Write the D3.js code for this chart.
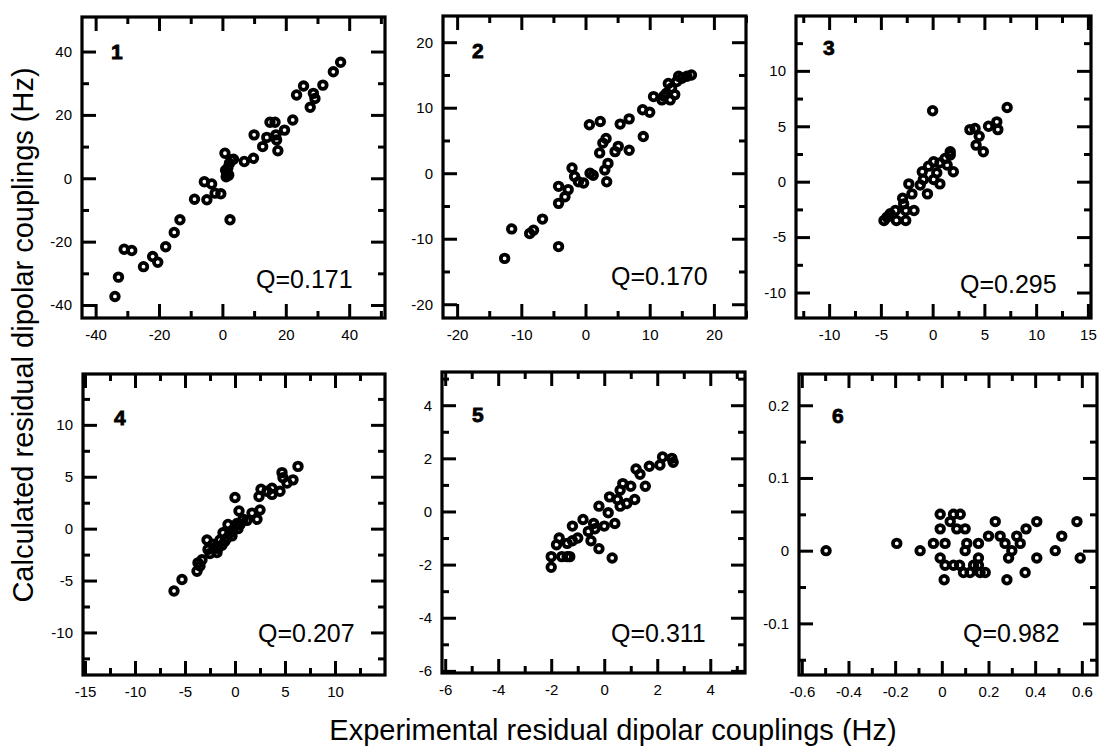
<!DOCTYPE html>
<html>
<head>
<meta charset="utf-8">
<script src="https://cdn.jsdelivr.net/npm/d3@7"></script>
<style>
  body { margin: 0; background: #fff; }
  text { font-family: "Liberation Sans", Arial, sans-serif; fill: #000; }
</style>
</head>
<body>
<div id="chart"></div>
<script>
// experimental (x) vs calculated (y) RDCs, one pair of arrays per panel
var p1x = [-33.9,-32.8,-31.0,-28.6,-24.9,-22.0,-20.4,-17.9,-15.2,-13.4,-8.8,-5.7,-4.9,-3.4,-2.3,-0.5,0.8,2.4,1.4,1.7,2.2,1.2,2.9,3.5,6.9,9.8,10.0,12.7,14.0,15.0,16.6,16.9,17.1,17.5,19.6,22.2,23.4,25.6,27.7,28.7,29.2,31.7,35.0,37.3,1.0,2.0];
var p1y = [-37.3,-31.2,-22.4,-22.8,-27.9,-24.7,-26.5,-21.6,-17.1,-13.1,-6.6,-1.1,-6.8,-1.8,-4.7,-4.9,7.9,-13.1,1.6,3.2,4.7,0.5,5.8,6.0,5.3,6.3,13.7,10.0,12.9,17.7,17.7,13.7,12.1,8.7,15.2,18.4,26.3,29.1,22.4,26.8,25.2,29.4,33.6,36.6,2.5,1.0];

var p2x = [-12.6,-11.5,-8.7,-8.1,-6.7,-4.2,-4.2,-4.2,-3.2,-2.7,-2.1,-1.7,-1.1,-0.3,0.6,0.7,1.2,2.3,2.2,2.7,3.2,3.0,3.5,3.3,4.6,5.1,5.4,6.8,6.8,8.9,9.0,10.0,10.6,11.9,12.6,13.2,13.4,13.9,14.5,15.0,15.8,16.5,12.9,14.2,12.2];
var p2y = [-13.0,-8.5,-9.2,-8.7,-7.0,-11.2,-2.0,-4.6,-3.6,-2.5,0.8,-0.5,-1.3,-1.5,7.4,0,-0.3,7.9,3.1,4.6,5.3,0.5,1.5,-1.3,3.3,4.1,7.5,8.3,3.5,9.7,5.6,9.3,11.7,11.2,12.2,11.2,13.0,12.0,14.8,14.5,14.8,15.0,13.7,14.0,11.8];

var p3x = [0,7.2,3.6,4.1,4.5,4.2,4.9,5.4,6.2,6.3,2.0,1.7,1.2,0.7,0.1,-0.4,0.4,-1.0,-0.5,-1.2,-2.3,-2.0,-2.8,-2.6,-3.6,-4.1,-4.4,-4.7,-3.5,-2.6,-1.8,-0.9,0.1,0.7,1.4,1.7,-2.9];
var p3y = [6.4,6.7,4.7,4.8,4.1,3.3,2.7,5.0,5.4,4.7,0.9,2.4,2.1,1.7,1.8,1.4,0.8,0.9,-1.1,-0.3,-0.2,-1.1,-2.0,-2.6,-2.6,-2.9,-3.2,-3.5,-3.5,-3.5,-2.6,0.2,0.2,-0.2,1.5,2.7,-1.5];

var p4x = [-6.1,-5.3,-3.8,-3.7,-3.3,-2.8,-2.7,-2.2,-1.8,-1.5,-1.2,-1.0,-0.7,-0.5,-0.2,0,0.2,0.4,0.8,1.7,2.2,2.5,2.4,2.6,3.2,3.7,3.7,4.5,4.7,4.8,5.2,5.8,6.3,-1.7,-0.3,0.5,-3.5,-2.5,-2.0,-1.3,-0.8,0.3,1.2];
var p4y = [-6.0,-4.9,-4.1,-3.3,-3.0,-1.1,-2.0,-1.5,-2.3,-1.1,-0.4,-1.2,0.4,-0.4,-0.1,3.0,0.5,1.7,0.9,1.5,0.9,1.8,3.1,3.8,3.6,3.3,3.9,3.6,5.4,4.9,4.4,4.7,6.0,-1.9,-0.7,0.4,-3.6,-2.4,-1.8,-1.6,-0.9,0.0,0.8];

var p5x = [-2.0,-2.0,-1.8,-1.7,-1.6,-1.4,-1.3,-1.4,-1.2,-1.2,-1.0,-0.8,-0.6,-0.5,-0.2,-0.4,-0.2,0,0.3,0.2,0.4,0.5,0.6,0.7,0.85,1.0,1.15,1.2,1.55,1.35,1.7,2.1,2.2,2.55,2.6,0.6,0.15,-0.35];
var p5y = [-2.1,-1.7,-1.25,-1.0,-1.7,-1.7,-1.7,-1.2,-0.55,-1.1,-1.0,-0.3,-0.75,-1.1,-1.4,-0.45,0.2,-0.55,-1.75,0.55,-0.45,0.45,0.8,1.05,0.3,0.95,0.45,1.6,0.95,1.4,1.7,1.75,2.05,2.0,1.85,0.2,-0.05,-0.65];

var p6x = [-0.496,-0.193,-0.093,-0.036,-0.007,-0.007,-0.007,0.01,0.014,0.014,0.036,0.05,0.079,0.064,0.1,0.076,0.093,0.107,0.1,0.121,0.157,0.157,0.157,0.164,0.186,0.2,0.229,0.25,0.271,0.279,0.286,0.3,0.321,0.336,0.357,0.361,0.407,0.407,0.486,0.514,0.579,0.593,0.05,0.136];
var p6y = [0,0.01,0,0.01,0.05,0.03,-0.01,-0.04,-0.02,0.01,0.04,0.05,0.05,0.03,0.03,-0.02,-0.03,0.01,0,-0.03,0.01,-0.01,-0.02,-0.03,-0.03,0.02,0.04,0.02,0.01,-0.04,-0.01,0,0.02,0.01,-0.03,0.03,0.04,-0.01,0,0.02,0.04,-0.01,-0.02,-0.02];

var panelNames = ["1", "2", "3", "4", "5", "6"];
var qLabels = ["Q=0.171", "Q=0.170", "Q=0.295", "Q=0.207", "Q=0.311", "Q=0.982"];

// labelled (major) and unlabelled (minor) tick values
var xMajor = [[-40,-20,0,20,40], [-20,-10,0,10,20], [-10,-5,0,5,10,15], [-15,-10,-5,0,5,10], [-6,-4,-2,0,2,4], [-0.6,-0.4,-0.2,0,0.2,0.4,0.6]];
var xMinor = [[-30,-10,10,30,50], [-15,-5,5,15,25], [-12.5,-7.5,-2.5,2.5,7.5,12.5], [-12.5,-7.5,-2.5,2.5,7.5,12.5], [-5,-3,-1,1,3,5], [-0.5,-0.3,-0.1,0.1,0.3,0.5]];
var yMajor = [[-40,-20,0,20,40], [-20,-10,0,10,20], [-10,-5,0,5,10], [-10,-5,0,5,10], [-6,-4,-2,0,2,4], [-0.1,0,0.1,0.2]];
var yMinor = [[-30,-10,10,30], [-15,-5,5,15], [-7.5,-2.5,2.5,7.5,12.5], [-12.5,-7.5,-2.5,2.5,7.5,12.5], [-5,-3,-1,1,3,5], [-0.15,-0.05,0.05,0.15]];

var xData = [p1x, p2x, p3x, p4x, p5x, p6x];
var yData = [p1y, p2y, p3y, p4y, p5y, p6y];

// panel layout: frame box in pixels and the axis ranges it shows
var layout = [
    {box: [82, 17, 385, 318],  xd: [-44.3, 51.3],   yd: [-44.1, 50.9]},
    {box: [443, 16, 746, 318], xd: [-22.2, 25.0],   yd: [-22.1, 24.0]},
    {box: [796, 16, 1091, 318],xd: [-13.2, 15.3],   yd: [-12.3, 14.95]},
    {box: [83, 374, 385, 675], xd: [-15.2, 15.0],   yd: [-14.1, 14.9]},
    {box: [442, 372, 745, 673],xd: [-6.12, 5.31],   yd: [-6.08, 5.25]},
    {box: [799, 374, 1097, 675],xd: [-0.612, 0.665],yd: [-0.171, 0.243]}
];
// offsets of panel number (from top-left) and Q text (from bottom-left)
var numPos = [[29, 42], [29, 42], [27, 39], [31, 51], [30, 50], [33, 49]];
var qPos = [[174, 30], [168, 33], [164, 25], [175, 33], [169, 31], [164, 33]];

var W = 1099, H = 746;
var svg = d3.select("#chart").append("svg")
    .attr("width", W)
    .attr("height", H);

function styleAxis(g) {
    g.select(".domain").remove();
    g.selectAll(".tick line").attr("stroke", "#000").attr("stroke-width", 3);
    g.selectAll(".tick text").attr("font-size", 15).attr("fill", "#000");
}

layout.forEach(function(p, i) {
    var x0 = p.box[0], y0 = p.box[1], x1 = p.box[2], y1 = p.box[3];
    var x = d3.scaleLinear().domain(p.xd).range([x0, x1]);
    var y = d3.scaleLinear().domain(p.yd).range([y1, y0]);
    var g = svg.append("g");

    // bottom + left with labels, top + right mirrored
    g.append("g").attr("transform", "translate(0," + y1 + ")")
        .call(d3.axisBottom(x).tickValues(xMajor[i]).tickSize(-14).tickPadding(11).tickFormat(String))
        .call(styleAxis);
    g.append("g").attr("transform", "translate(0," + y1 + ")")
        .call(d3.axisBottom(x).tickValues(xMinor[i]).tickSize(-7).tickFormat(""))
        .call(styleAxis);
    g.append("g").attr("transform", "translate(0," + y0 + ")")
        .call(d3.axisTop(x).tickValues(xMajor[i]).tickSize(-14).tickFormat(""))
        .call(styleAxis);
    g.append("g").attr("transform", "translate(0," + y0 + ")")
        .call(d3.axisTop(x).tickValues(xMinor[i]).tickSize(-7).tickFormat(""))
        .call(styleAxis);
    g.append("g").attr("transform", "translate(" + x0 + ",0)")
        .call(d3.axisLeft(y).tickValues(yMajor[i]).tickSize(-14).tickPadding(10).tickFormat(String))
        .call(styleAxis);
    g.append("g").attr("transform", "translate(" + x0 + ",0)")
        .call(d3.axisLeft(y).tickValues(yMinor[i]).tickSize(-7).tickFormat(""))
        .call(styleAxis);
    g.append("g").attr("transform", "translate(" + x1 + ",0)")
        .call(d3.axisRight(y).tickValues(yMajor[i]).tickSize(-14).tickFormat(""))
        .call(styleAxis);
    g.append("g").attr("transform", "translate(" + x1 + ",0)")
        .call(d3.axisRight(y).tickValues(yMinor[i]).tickSize(-7).tickFormat(""))
        .call(styleAxis);

    // frame
    g.append("rect")
        .attr("x", x0).attr("y", y0)
        .attr("width", x1 - x0).attr("height", y1 - y0)
        .attr("fill", "none")
        .attr("stroke", "#000")
        .attr("stroke-width", 3.2);

    // open circle markers
    g.selectAll("circle.pt")
        .data(d3.range(xData[i].length))
        .enter().append("circle")
        .attr("class", "pt")
        .attr("cx", function(k) { return x(xData[i][k]); })
        .attr("cy", function(k) { return y(yData[i][k]); })
        .attr("r", 3.8)
        .attr("fill", "none")
        .attr("stroke", "#000")
        .attr("stroke-width", 3.8);

    g.append("text")
        .attr("x", x0 + numPos[i][0])
        .attr("y", y0 + numPos[i][1])
        .attr("font-size", 21)
        .attr("font-weight", "bold")
        .attr("stroke", "#000")
        .attr("stroke-width", 0.8)
        .text(panelNames[i]);

    g.append("text")
        .attr("x", x0 + qPos[i][0])
        .attr("y", y1 - qPos[i][1])
        .attr("font-size", 25)
        .text(qLabels[i]);
});

// axis titles
svg.append("text")
    .attr("x", 613)
    .attr("y", 740)
    .attr("text-anchor", "middle")
    .attr("font-size", 29)
    .text("Experimental residual dipolar couplings (Hz)");

svg.append("text")
    .attr("transform", "translate(33,335) rotate(-90)")
    .attr("text-anchor", "middle")
    .attr("font-size", 29)
    .text("Calculated residual dipolar couplings (Hz)");
</script>
</body>
</html>
